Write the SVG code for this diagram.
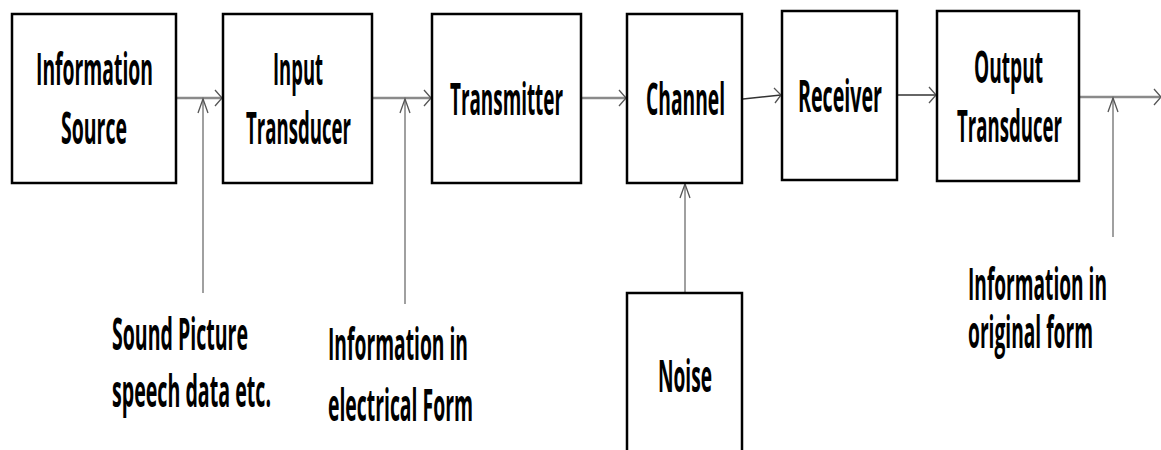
<svg xmlns="http://www.w3.org/2000/svg" width="1161" height="450" viewBox="0 0 1161 450">
<style>
.box{fill:#fff;stroke:#000;stroke-width:2.5}
.t{font-family:"Open Sans","Liberation Sans",sans-serif;font-weight:700;font-size:45px;fill:#000}
.h{fill:none;stroke:#8a8a8a;stroke-width:2.5}
.v{fill:none;stroke:#808080;stroke-width:1.5}
.d{fill:none;stroke:#333;stroke-width:1.5}
.head{fill:none;stroke:#555;stroke-width:1.3}
</style>
<rect width="1161" height="450" fill="#fff"/>
<g id="connectors">
  <line class="h" x1="176" y1="98" x2="222" y2="98"/>
  <polyline class="head" points="215,90 222,98 215,106"/>
  <line class="h" x1="372" y1="98" x2="431" y2="98"/>
  <polyline class="head" points="424,90 431,98 424,106"/>
  <line class="h" x1="581" y1="98" x2="626" y2="98"/>
  <polyline class="head" points="619,90 626,98 619,106"/>
  <line class="d" x1="743" y1="99" x2="781" y2="95"/>
  <polyline class="head" points="774,88 781,95 775,103"/>
  <line class="d" x1="897" y1="95" x2="936" y2="95"/>
  <polyline class="head" points="929,87 936,95 929,103"/>
  <line class="h" x1="1079" y1="97" x2="1160" y2="97" stroke="#777"/>
  <polyline class="head" points="1154,89 1161,97 1154,105"/>
  <line class="v" x1="203" y1="99" x2="203" y2="293"/>
  <polyline class="head" points="198,113 203,99 208,113"/>
  <line class="v" x1="405" y1="99" x2="405" y2="304"/>
  <polyline class="head" points="400,113 405,99 410,113"/>
  <line class="v" x1="685" y1="184" x2="685" y2="293" stroke="#666"/>
  <polyline class="head" points="680,198 685,184 690,198"/>
  <line class="v" x1="1113" y1="98" x2="1113" y2="237" stroke="#666"/>
  <polyline class="head" points="1108,112 1113,98 1118,112"/>
</g>
<g id="info-source">
  <rect class="box" x="12" y="14" width="164" height="169"/>
  <text class="t" transform="translate(36,85) scale(0.45,1)" textLength="260" lengthAdjust="spacingAndGlyphs">Information</text>
  <text class="t" transform="translate(61,144) scale(0.45,1)" textLength="146.7" lengthAdjust="spacingAndGlyphs">Source</text>
</g>
<g id="input-transducer">
  <rect class="box" x="223" y="14" width="149" height="169"/>
  <text class="t" transform="translate(273,85) scale(0.45,1)" textLength="111.1" lengthAdjust="spacingAndGlyphs">Input</text>
  <text class="t" transform="translate(246,144) scale(0.45,1)" textLength="233.3" lengthAdjust="spacingAndGlyphs">Transducer</text>
</g>
<g id="transmitter">
  <rect class="box" x="432" y="14" width="149" height="169"/>
  <text class="t" transform="translate(450,115) scale(0.45,1)" textLength="251.1" lengthAdjust="spacingAndGlyphs">Transmitter</text>
</g>
<g id="channel">
  <rect class="box" x="627" y="14" width="115" height="169"/>
  <text class="t" transform="translate(646,115) scale(0.45,1)" textLength="175.6" lengthAdjust="spacingAndGlyphs">Channel</text>
</g>
<g id="receiver">
  <rect class="box" x="782" y="11" width="115" height="169"/>
  <text class="t" transform="translate(798,112) scale(0.45,1)" textLength="186.7" lengthAdjust="spacingAndGlyphs">Receiver</text>
</g>
<g id="output-transducer">
  <rect class="box" x="937" y="11" width="142" height="170"/>
  <text class="t" transform="translate(974,83) scale(0.45,1)" textLength="153.3" lengthAdjust="spacingAndGlyphs">Output</text>
  <text class="t" transform="translate(957,142) scale(0.45,1)" textLength="233.3" lengthAdjust="spacingAndGlyphs">Transducer</text>
</g>
<g id="noise">
  <rect class="box" x="627" y="293" width="115" height="170"/>
  <text class="t" transform="translate(658,392) scale(0.45,1)" textLength="120" lengthAdjust="spacingAndGlyphs">Noise</text>
</g>
<g id="label-sound">
  <text class="t" transform="translate(112,350) scale(0.45,1)" textLength="302.2" lengthAdjust="spacingAndGlyphs">Sound Picture</text>
  <text class="t" transform="translate(112,407) scale(0.45,1)" textLength="353.3" lengthAdjust="spacingAndGlyphs">speech data etc.</text>
</g>
<g id="label-electrical">
  <text class="t" transform="translate(328,360) scale(0.45,1)" textLength="311.1" lengthAdjust="spacingAndGlyphs">Information in</text>
  <text class="t" transform="translate(328,421) scale(0.45,1)" textLength="322.2" lengthAdjust="spacingAndGlyphs">electrical Form</text>
</g>
<g id="label-original">
  <text class="t" transform="translate(968,300) scale(0.45,1)" textLength="308.9" lengthAdjust="spacingAndGlyphs">Information in</text>
  <text class="t" transform="translate(968,348) scale(0.45,1)" textLength="277.8" lengthAdjust="spacingAndGlyphs">original form</text>
</g>
</svg>
